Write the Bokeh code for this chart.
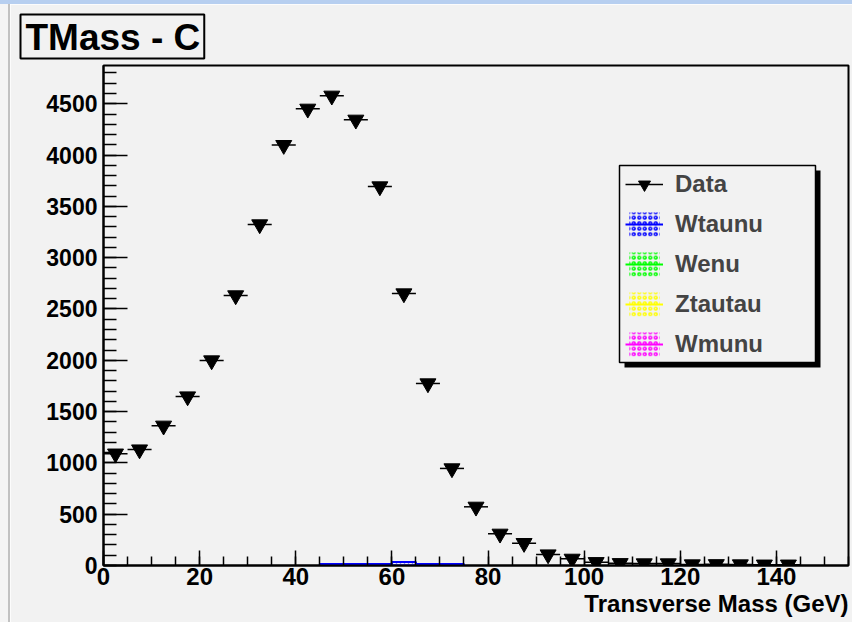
from bokeh.plotting import figure
from bokeh.models import (Range1d, Legend, LegendItem, SingleIntervalTicker, Title, Div)
from bokeh.layouts import column, row
from bokeh.embed import file_html
from bokeh.resources import INLINE

# ---------------- data ----------------
bin_centers = [2.5, 7.5, 12.5, 17.5, 22.5, 27.5, 32.5, 37.5, 42.5, 47.5,
               52.5, 57.5, 62.5, 67.5, 72.5, 77.5, 82.5, 87.5, 92.5, 97.5,
               102.5, 107.5, 112.5, 117.5, 122.5, 127.5, 132.5, 137.5, 142.5]
data_counts = [1090, 1130, 1362, 1647, 1998, 2632, 3324, 4097, 4451, 4578,
               4344, 3694, 2651, 1774, 946, 572, 309, 218, 107, 65,
               32, 22, 20, 20, 10, 12, 10, 8, 8]
bin_half_width = 2.5

wtaunu_low = [45, 50, 55, 60, 65, 70]
wtaunu_high = [50, 55, 60, 65, 70, 75]
wtaunu_counts = [15, 15, 15, 35, 15, 15]

legend_labels = ["Data", "Wtaunu", "Wenu", "Ztautau", "Wmunu"]
mc_colors = ["#0000ff", "#00ff00", "#ffff00", "#ff00ff"]

title_text = "TMass - C"
x_title = "Transverse Mass (GeV)"

# ---------------- layout (page pixels) ----------------
W, H = 852, 622
STRIP, LEFTPAD = 4, 10
FL, FR, FT, FB = 103, 848, 65, 565
XMAX, YMAX = 155, 4873
BG = "#f2f2f2"
FONT = "Liberation Sans"


def px2x(px):
    return (px - FL) / (FR - FL) * XMAX


def py2y(py):
    return (FB - py) / (FB - FT) * YMAX


p = figure(width=W - LEFTPAD, height=H - STRIP,
           x_range=Range1d(0, XMAX), y_range=Range1d(0, YMAX),
           output_backend="svg", toolbar_location=None,
           min_border_left=FL - LEFTPAD, min_border_right=W - FR,
           min_border_top=FT - STRIP, min_border_bottom=H - FB, margin=0)
p.background_fill_color = BG
p.border_fill_color = BG
p.outline_line_color = "black"
p.outline_line_width = 2
p.xgrid.visible = False
p.ygrid.visible = False

p.xaxis.ticker = SingleIntervalTicker(interval=20, num_minor_ticks=4)
p.yaxis.ticker = SingleIntervalTicker(interval=500, num_minor_ticks=5)
for ax in (p.xaxis, p.yaxis):
    ax.axis_line_color = "black"
    ax.axis_line_width = 2
    ax.major_tick_out = 0
    ax.minor_tick_out = 0
    ax.major_tick_line_width = 1.5
    ax.minor_tick_line_width = 1.5
    ax.major_tick_line_color = "black"
    ax.minor_tick_line_color = "black"
    ax.major_label_text_font = FONT
    ax.major_label_text_font_style = "bold"
    ax.major_label_text_font_size = "23px"
    ax.major_label_text_color = "black"
p.xaxis.major_label_text_font_size = "24px"
p.xaxis.major_tick_in = 15
p.xaxis.minor_tick_in = 9
p.yaxis.major_tick_in = 24
p.yaxis.minor_tick_in = 13
p.xaxis.major_label_standoff = 2
p.yaxis.major_label_standoff = 6

# ---------------- title box ----------------
p.title.text = title_text
p.title.align = "left"
p.title.offset = 20 - FL
p.title.text_font = FONT
p.title.text_font_style = "bold"
p.title.text_font_size = "37px"
p.title.text_color = "black"
p.title.background_fill_color = BG
p.title.border_line_color = "black"
p.title.border_line_width = 2
p.title.padding = dict(left=5, right=4, top=2, bottom=1)
p.title.standoff = 14

# ---------------- x axis title ----------------
p.add_layout(Title(text=x_title, align="right", text_font=FONT,
                   text_font_style="bold", text_font_size="24px",
                   text_color="black", standoff=0), "below")

# ---------------- legend box (shadow + box) ----------------
p.quad(left=[px2x(624)], right=[px2x(820)], top=[py2y(170)], bottom=[py2y(367)],
       fill_color="black", line_color=None)
p.quad(left=[px2x(619)], right=[px2x(815)], top=[py2y(165)], bottom=[py2y(362)],
       fill_color=BG, line_color="black", line_width=1.5)

# ---------------- MC stack (visible part) ----------------
p.quad(left=wtaunu_low, right=wtaunu_high, bottom=0, top=wtaunu_counts,
       fill_alpha=0, hatch_pattern="dot", hatch_color=mc_colors[0], hatch_scale=4,
       line_color=mc_colors[0], line_width=2)

# ---------------- data ----------------
x0 = [c - bin_half_width for c in bin_centers]
x1 = [c + bin_half_width for c in bin_centers]
seg = p.segment(x0=x0, x1=x1, y0=data_counts, y1=data_counts,
                line_color="black", line_width=1.5)
sc = p.scatter(x=bin_centers, y=data_counts, marker="inverted_triangle", size=16,
               fill_color="black", line_color="black")

# legend proxies for the MC samples (placed off-range, only used by the legend)
items = [LegendItem(label=legend_labels[0], renderers=[seg, sc])]
for lab, col in zip(legend_labels[1:], mc_colors):
    q = p.quad(left=[-20], right=[-19], top=[-20], bottom=[-21], fill_alpha=0,
               hatch_pattern="ring", hatch_color=col, hatch_scale=5.5, hatch_weight=1.5,
               line_color=None)
    ln = p.line(x=[-20, -19], y=[-20, -20], line_color=col, line_width=2)
    items.append(LegendItem(label=lab, renderers=[q, ln]))

legend = Legend(items=items, location=(517, 201), orientation="vertical",
                glyph_width=38, glyph_height=30, label_height=30, spacing=10,
                padding=5, margin=0, label_standoff=12,
                label_text_font=FONT, label_text_font_style="bold",
                label_text_font_size="24px",
                background_fill_alpha=0, border_line_alpha=0)
p.add_layout(legend)

# window chrome: top strip and left border line
strip = Div(width=W, height=STRIP, margin=0, styles={"background-color": "#b7cff0"})
left_bg = Div(width=8, height=H - STRIP, margin=0, styles={"background-color": "#f5f5f5"})
left_line = Div(width=2, height=H - STRIP, margin=0, styles={"background-color": "#c2c2c2"})
layout = column(strip, row(left_bg, left_line, p, spacing=0, margin=0), spacing=0, margin=0)

open("out.html", "w").write(file_html(layout, INLINE))
